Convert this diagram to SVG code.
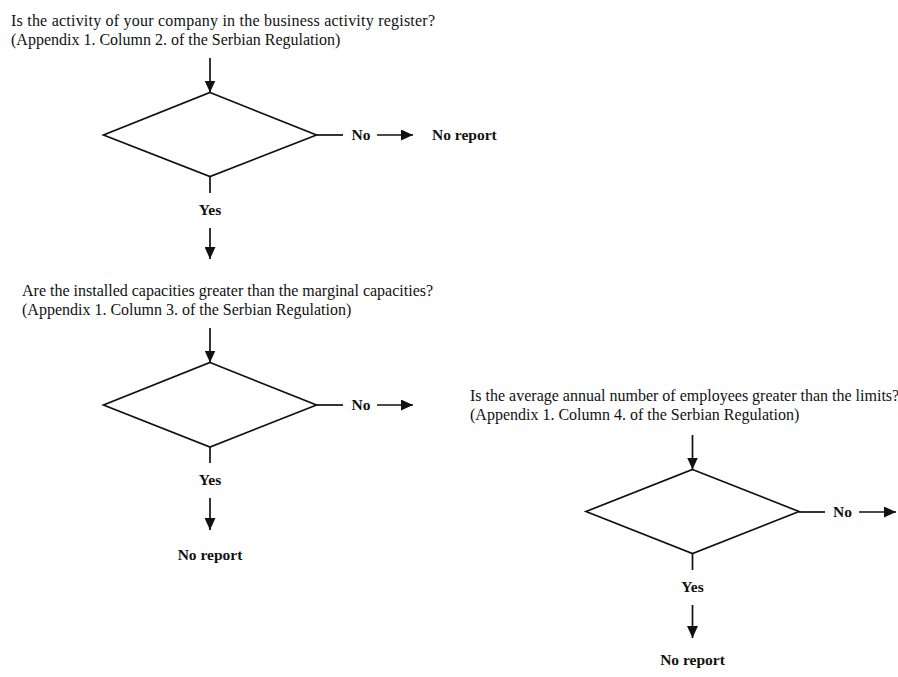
<svg xmlns="http://www.w3.org/2000/svg" width="898" height="677" viewBox="0 0 898 677">
<defs>
<marker id="ah" markerUnits="userSpaceOnUse" markerWidth="13" markerHeight="11" refX="12" refY="5.5" orient="auto">
<path d="M0,0 L12,5.5 L0,11 z" fill="#111"/>
</marker>
<style>
.t{font-family:"Liberation Serif","Times New Roman",serif;font-size:16px;fill:#111}
.b{font-family:"Liberation Serif","Times New Roman",serif;font-size:15.5px;font-weight:bold;fill:#111}
.d{fill:none;stroke:#111;stroke-width:1.7}
.c line{stroke:#111;stroke-width:1.7}
.a{marker-end:url(#ah)}
</style>
</defs>
<rect width="898" height="677" fill="#ffffff"/>
<g id="q1">
<text class="t" x="11" y="25.5" textLength="424" lengthAdjust="spacing">Is the activity of your company in the business activity register?</text>
<text class="t" x="11" y="45">(Appendix 1. Column 2. of the Serbian Regulation)</text>
<polygon class="d" points="210,92.5 316.5,135 210,176.5 103.5,135"/>
</g>
<g id="q2">
<text class="t" x="22" y="296">Are the installed capacities greater than the marginal capacities?</text>
<text class="t" x="22" y="315">(Appendix 1. Column 3. of the Serbian Regulation)</text>
<polygon class="d" points="210,362.5 316.5,405 210,447 103.5,405"/>
</g>
<g id="q3">
<text class="t" x="470" y="401">Is the average annual number of employees greater than the limits?</text>
<text class="t" x="470" y="420">(Appendix 1. Column 4. of the Serbian Regulation)</text>
<polygon class="d" points="692.5,469.5 799,511.5 692.5,553.5 586,511.5"/>
</g>
<g id="r1"><text class="b" x="432" y="140">No report</text></g>
<g id="r2"><text class="b" x="210" y="560" text-anchor="middle">No report</text></g>
<g id="r3"><text class="b" x="692.5" y="665" text-anchor="middle">No report</text></g>
<g id="connectors" class="c">
<line class="a" x1="210" y1="58" x2="210" y2="92.5"/>
<line x1="210" y1="176.5" x2="210" y2="193"/>
<line class="a" x1="210" y1="228" x2="210" y2="259"/>
<line x1="316.5" y1="135" x2="343" y2="135"/>
<line class="a" x1="377" y1="135" x2="413" y2="135"/>
<line class="a" x1="210" y1="328" x2="210" y2="362.5"/>
<line x1="210" y1="447" x2="210" y2="463"/>
<line class="a" x1="210" y1="498" x2="210" y2="530"/>
<line x1="316.5" y1="405" x2="343" y2="405"/>
<line class="a" x1="377" y1="405" x2="413" y2="405"/>
<line class="a" x1="692.5" y1="435" x2="692.5" y2="469.5"/>
<line x1="692.5" y1="553.5" x2="692.5" y2="570"/>
<line class="a" x1="692.5" y1="605" x2="692.5" y2="638"/>
<line x1="799" y1="512" x2="825" y2="512"/>
<line class="a" x1="859" y1="512" x2="896" y2="512"/>
</g>
<g id="labels">
<text class="b" x="210" y="215" text-anchor="middle">Yes</text>
<text class="b" x="351.5" y="140">No</text>
<text class="b" x="210" y="485" text-anchor="middle">Yes</text>
<text class="b" x="351.5" y="410">No</text>
<text class="b" x="692.5" y="591.5" text-anchor="middle">Yes</text>
<text class="b" x="833" y="517">No</text>
</g>
</svg>
